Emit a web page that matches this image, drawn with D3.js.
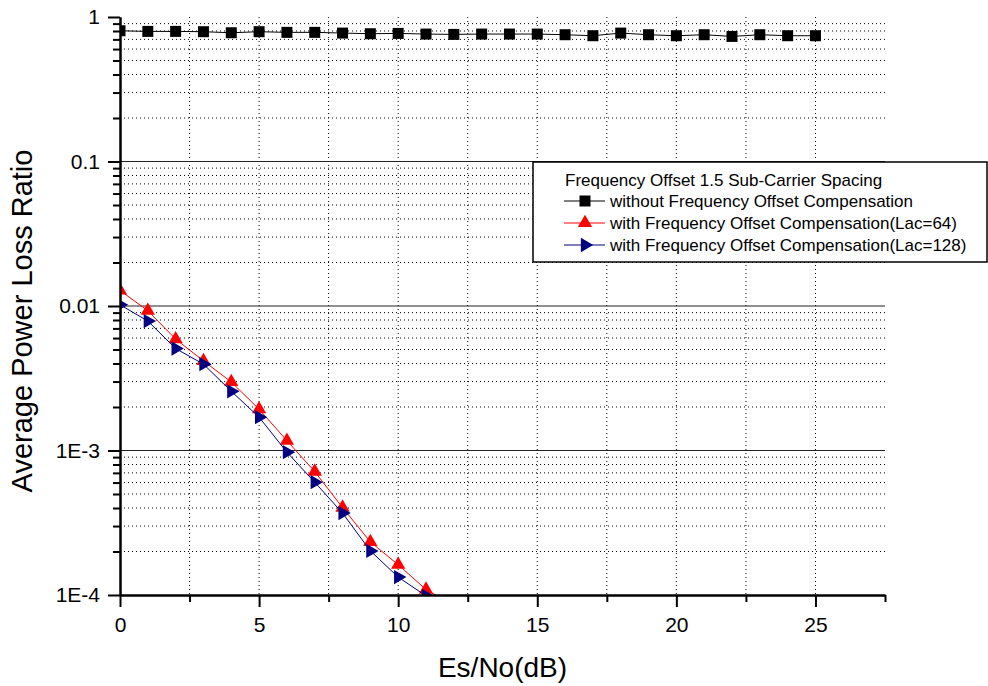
<!DOCTYPE html>
<html>
<head>
<meta charset="utf-8">
<script src="https://cdn.jsdelivr.net/npm/d3@7"></script>
<style>
  body { margin: 0; background: #fff; }
  svg { font-family: "Liberation Sans", Arial, sans-serif; }
</style>
</head>
<body>
<svg width="988" height="686"></svg>
<script>
// values
const snrWithout = [0, 1, 2, 3, 4, 5, 6, 7, 8, 9, 10, 11, 12, 13, 14, 15, 16, 17, 18, 19, 20, 21, 22, 23, 24, 25];
const lossWithout = [0.803, 0.795, 0.795, 0.791, 0.778, 0.791, 0.783, 0.783, 0.774, 0.766, 0.770, 0.762, 0.758,
                     0.762, 0.762, 0.762, 0.754, 0.742, 0.774, 0.754, 0.742, 0.754, 0.734, 0.754, 0.742, 0.742];

const snrComp = [0, 1, 2, 3, 4, 5, 6, 7, 8, 9, 10, 11, 12];
const lossLac64 = [0.0128, 0.00927, 0.0059, 0.00417, 0.00298, 0.00193, 0.00117, 0.000715, 0.000403,
                   0.000233, 0.000162, 0.000109, 0.000085];
const lossLac128 = [0.0102, 0.00787, 0.00508, 0.00396, 0.00257, 0.0017, 0.000973, 0.000603, 0.000369,
                    0.000202, 0.000133, 0.0000985, 0.00006];

const xTicks = [0, 5, 10, 15, 20, 25];
const xMinorTicks = [2.5, 7.5, 12.5, 17.5, 22.5, 27.5];
const yTicks = [1, 0.1, 0.01, 1e-3, 1e-4];
const yTickLabels = ["1", "0.1", "0.01", "1E-3", "1E-4"];

const legendTitle = "Frequency Offset 1.5 Sub-Carrier Spacing";
const seriesNames = ["without Frequency Offset Compensation",
                     "with Frequency Offset Compensation(Lac=64)",
                     "with Frequency Offset Compensation(Lac=128)"];

const svg = d3.select("svg");

const margin = {top: 17, right: 103, bottom: 91, left: 120},
      width = 988 - margin.left - margin.right,
      height = 686 - margin.top - margin.bottom;

const g = svg.append("g")
    .attr("transform", `translate(${margin.left},${margin.top})`);

const x = d3.scaleLinear().domain([0, 27.5]).range([0, width]);
const y = d3.scaleLog().domain([1e-4, 1]).range([height, 0]);

// grid
const minorY = y.ticks().filter(d => yTicks.indexOf(d) < 0 && d < 1);
g.append("g").selectAll("line")
    .data(minorY)
    .enter().append("line")
    .attr("x1", 0).attr("x2", width)
    .attr("y1", d => y(d)).attr("y2", d => y(d))
    .attr("stroke", "#000").attr("stroke-width", 1)
    .attr("stroke-dasharray", "1,3");

g.append("g").selectAll("line")
    .data(xTicks.concat(xMinorTicks).filter(d => d > 0 && d < 27.5))
    .enter().append("line")
    .attr("x1", d => x(d)).attr("x2", d => x(d))
    .attr("y1", 0).attr("y2", height)
    .attr("stroke", "#000").attr("stroke-width", 1)
    .attr("stroke-dasharray", "1,3");

g.append("g").selectAll("line")
    .data([0.1, 0.01, 1e-3])
    .enter().append("line")
    .attr("x1", 0).attr("x2", width)
    .attr("y1", d => y(d)).attr("y2", d => y(d))
    .attr("stroke", "#222").attr("stroke-width", 1);

// curves
svg.append("defs").append("clipPath").attr("id", "plot")
    .append("rect").attr("width", width).attr("height", height);

const plot = g.append("g").attr("clip-path", "url(#plot)");

const series = [
    {xs: snrWithout, ys: lossWithout, color: "#000", shape: "square"},
    {xs: snrComp, ys: lossLac64, color: "#ff0000", shape: "up"},
    {xs: snrComp, ys: lossLac128, color: "#000080", shape: "right"}
];

const symbolPath = shape => shape === "square"
    ? d3.symbol(d3.symbolSquare, 121)()
    : d3.symbol(d3.symbolTriangle, 88)();

const rot = shape => shape === "right" ? 90 : 0;

const line = d3.line().x(d => x(d[0])).y(d => y(d[1]));

series.forEach(s => {
    const pts = s.xs.map((v, i) => [v, s.ys[i]]);
    plot.append("path")
        .datum(pts)
        .attr("fill", "none")
        .attr("stroke", s.color)
        .attr("stroke-width", 1)
        .attr("d", line);
    plot.selectAll(null)
        .data(pts)
        .enter().append("path")
        .attr("d", symbolPath(s.shape))
        .attr("fill", s.color)
        .attr("transform", d => `translate(${x(d[0])},${y(d[1])}) rotate(${rot(s.shape)})`);
});

// axes
g.append("g")
    .attr("transform", `translate(0,${height})`)
    .call(d3.axisBottom(x).tickValues(xTicks).tickSize(12).tickSizeOuter(0).tickPadding(10));
g.append("g")
    .attr("transform", `translate(0,${height})`)
    .call(d3.axisBottom(x).tickValues(xMinorTicks).tickSize(7).tickSizeOuter(0).tickFormat(""));

g.append("g")
    .call(d3.axisLeft(y).tickValues(yTicks).tickFormat((d, i) => yTickLabels[i])
        .tickSize(12).tickSizeOuter(0).tickPadding(8));
g.append("g")
    .call(d3.axisLeft(y).tickValues(minorY).tickFormat("").tickSize(7).tickSizeOuter(0));

g.selectAll(".domain").attr("stroke-width", 2);
g.selectAll(".tick line").attr("stroke-width", 2);
g.selectAll(".tick text")
    .attr("font-family", "Liberation Sans, Arial, sans-serif")
    .attr("font-size", 21)
    .attr("fill", "#000");

// titles
svg.append("text")
    .attr("x", margin.left + width / 2)
    .attr("y", 677)
    .attr("text-anchor", "middle")
    .attr("font-size", 28)
    .text("Es/No(dB)");

svg.append("text")
    .attr("transform", "translate(32,321) rotate(-90)")
    .attr("text-anchor", "middle")
    .attr("font-size", 29)
    .text("Average Power Loss Ratio");

// legend
const legend = svg.append("g").attr("transform", "translate(533,162)");
legend.append("rect")
    .attr("width", 454).attr("height", 100)
    .attr("fill", "#fff").attr("stroke", "#000").attr("stroke-width", 1.5);
legend.append("text")
    .attr("x", 32).attr("y", 24)
    .attr("font-size", 17)
    .text(legendTitle);

const rows = legend.selectAll(".row")
    .data(series)
    .enter().append("g")
    .attr("class", "row")
    .attr("transform", (d, i) => `translate(0,${39 + i * 22})`);
rows.append("line")
    .attr("x1", 31).attr("x2", 72)
    .attr("stroke", d => d.color).attr("stroke-width", 1);
rows.append("path")
    .attr("d", d => symbolPath(d.shape))
    .attr("fill", d => d.color)
    .attr("transform", d => `translate(52,0) rotate(${rot(d.shape)})`);
rows.append("text")
    .attr("x", 77).attr("y", 6)
    .attr("font-size", 17)
    .text((d, i) => seriesNames[i]);
</script>
</body>
</html>
